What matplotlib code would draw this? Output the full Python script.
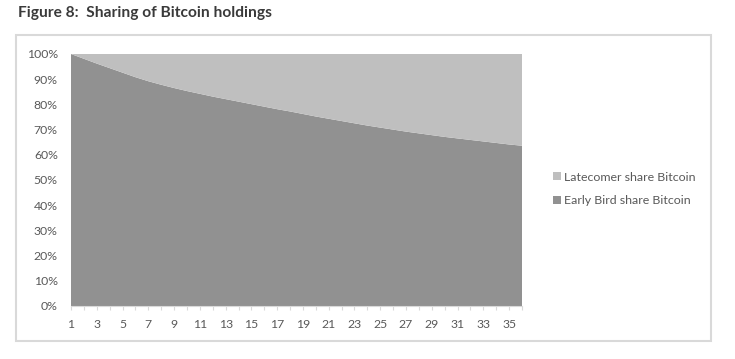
import matplotlib.pyplot as plt
import numpy as np
from matplotlib.patches import Rectangle

periods = list(range(1, 37))
early_bird = [100, 98.1, 96.2, 94.4, 92.6, 90.8, 89.2, 87.8, 86.5, 85.3, 84.2, 83.1,
              82.1, 81.1, 80.1, 79.1, 78.1, 77.2, 76.2, 75.2, 74.3, 73.4, 72.5, 71.6,
              70.8, 70.0, 69.2, 68.5, 67.8, 67.1, 66.5, 65.9, 65.3, 64.7, 64.1, 63.6]
latecomer = [100 - v for v in early_bird]
x_labels = [str(p) if p % 2 == 1 else '' for p in periods]

plt.rcParams['font.family'] = ['Lato', 'DejaVu Sans']

fig = plt.figure(figsize=(7.35, 3.59), dpi=100)

# outer chart frame
fig.patches.append(Rectangle((16 / 735, 1 - 341 / 359), 695 / 735, 306 / 359,
                             transform=fig.transFigure, fill=False,
                             edgecolor='#d9d9d9', linewidth=1.5))

fig.text(18 / 735, 1 - 13 / 359, 'Figure 8:  Sharing of Bitcoin holdings',
         fontsize=11.2, fontweight='bold', color='#3a3a3a', va='center', ha='left')

ax = fig.add_axes([71 / 735, 1 - 306 / 359, 451 / 735, 252 / 359])
ax.stackplot(periods, early_bird, latecomer, colors=['#919191', '#bfbfbf'],
             labels=['Early Bird share Bitcoin', 'Latecomer share Bitcoin'],
             linewidth=0)
ax.set_xlim(1, 36)
ax.set_ylim(0, 100)

ax.set_yticks(np.arange(0, 101, 10))
ax.set_yticklabels([f'{v}%' for v in range(0, 101, 10)])
ax.set_xticks(periods)
ax.set_xticklabels(x_labels)
ax.tick_params(axis='y', length=0, pad=9.5, labelsize=8.8, labelcolor='#595959')
ax.tick_params(axis='x', length=3, color='#d9d9d9', pad=6, labelsize=8.8,
               labelcolor='#595959')
for s in ['top', 'right', 'left']:
    ax.spines[s].set_visible(False)
ax.spines['bottom'].set_color('#d9d9d9')

handles, labels = ax.get_legend_handles_labels()
ax.legend(handles[::-1], labels[::-1], loc='center left',
          bbox_to_anchor=(553 / 735, 1 - 189 / 359), bbox_transform=fig.transFigure,
          frameon=False, fontsize=8.9, labelcolor='#595959', borderpad=0,
          borderaxespad=0, handlelength=0.65, handleheight=0.65,
          handletextpad=0.2, labelspacing=1.05)

fig.savefig('out.png', dpi=100)
